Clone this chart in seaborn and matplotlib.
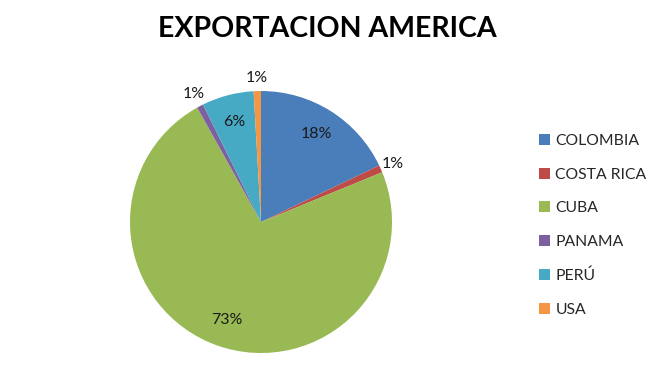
import matplotlib
matplotlib.use("Agg")
import matplotlib.pyplot as plt
import seaborn as sns
import numpy as np
from matplotlib.patches import Patch

categories = ["COLOMBIA", "COSTA RICA", "CUBA", "PANAMA", "PERÚ", "USA"]
values = [17.9, 0.9, 73.1, 0.8, 6.4, 0.9]
pct_labels = ["18%", "1%", "73%", "1%", "6%", "1%"]
colors = ["#4A7EBB", "#BE4B48", "#98B954", "#7D60A0", "#46AAC5", "#F59645"]

sns.set_theme(style="white")
plt.rcParams['font.family'] = ['Lato', 'DejaVu Sans']

fig = plt.figure(figsize=(6.63, 3.89), dpi=100)
ax = fig.add_axes([130/663, 36/389, 262/663, 262/389])
wedges, _ = ax.pie(values, colors=colors, startangle=90, counterclock=False,
                   radius=1, wedgeprops=dict(linewidth=0))
ax.set_xlim(-1, 1)
ax.set_ylim(-1, 1)
ax.set_aspect('equal')
ax.axis('off')

for w, lab, v in zip(wedges, pct_labels, values):
    ang = np.deg2rad((w.theta1 + w.theta2) / 2)
    r = 0.79 if v > 3 else 1.1
    ax.text(r * np.cos(ang), r * np.sin(ang), lab, ha='center', va='center',
            fontsize=11.5, color='#1a1a1a', clip_on=False)

fig.text(327/663, 1 - 29/389, "EXPORTACION AMERICA", ha='center', va='center',
         fontsize=20.5, fontweight='bold', color='black')

handles = [Patch(facecolor=c, edgecolor='none') for c in colors]
fig.legend(handles, categories, loc='upper left', bbox_to_anchor=(539/663, 1 - 134/389),
           frameon=False, fontsize=11.3, handlelength=0.7, handleheight=0.7,
           handletextpad=0.35, labelspacing=1.25, borderaxespad=0, borderpad=0)

fig.savefig("out.png", dpi=100, facecolor='white')
